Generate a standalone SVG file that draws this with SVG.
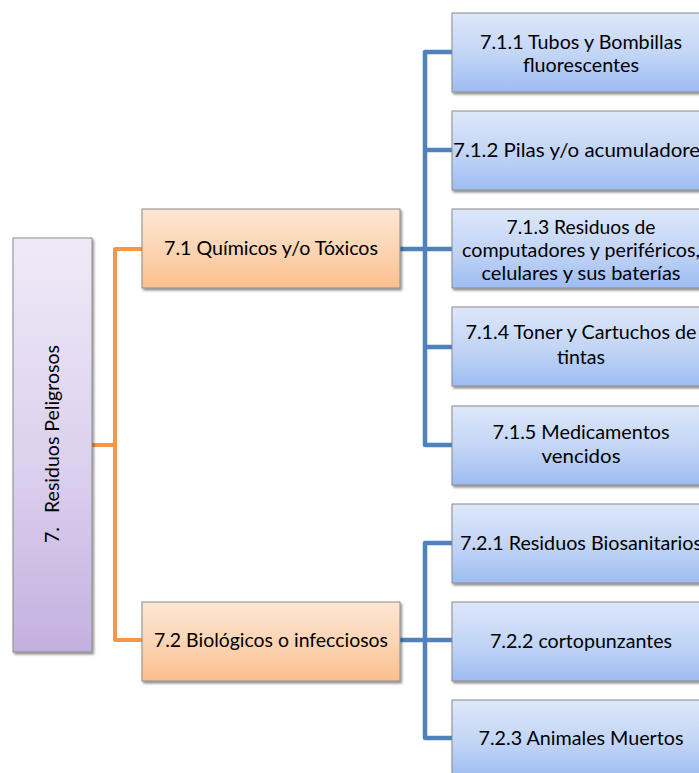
<svg xmlns="http://www.w3.org/2000/svg" width="699" height="773" viewBox="0 0 699 773">
<defs>
<linearGradient id="gP" x1="0" y1="0" x2="0" y2="1"><stop offset="0" stop-color="#EFEAF7"/><stop offset="0.55" stop-color="#DCD0EE"/><stop offset="1" stop-color="#C3B0E0"/></linearGradient>
<linearGradient id="gO" x1="0" y1="0" x2="0" y2="1"><stop offset="0" stop-color="#FDE6D4"/><stop offset="0.55" stop-color="#FCD3B1"/><stop offset="1" stop-color="#FABF8C"/></linearGradient>
<linearGradient id="gB" x1="0" y1="0" x2="0" y2="1"><stop offset="0" stop-color="#DDE7F9"/><stop offset="0.55" stop-color="#C1D4F6"/><stop offset="1" stop-color="#9DBCF2"/></linearGradient>
<filter id="sh" x="-10%" y="-10%" width="130%" height="130%"><feDropShadow dx="1.5" dy="2" stdDeviation="1.3" flood-color="#000" flood-opacity="0.45"/></filter>
</defs>
<style>
.box{stroke:#8A8A8A;stroke-width:1;filter:url(#sh)}
.p{fill:url(#gP)}.o{fill:url(#gO)}.b{fill:url(#gB)}
text{font-family:Lato,"Liberation Sans",sans-serif;font-size:20px;fill:#000;text-anchor:middle}
.co{fill:none;stroke:#F79646;stroke-width:4;stroke-linejoin:round}
.cb{fill:none;stroke:#4F81BD;stroke-width:4.5;stroke-linejoin:round}
</style>
<g id="connectors">
<path class="co" d="M92 445H115M143 249H115V640H143"/>
<path class="cb" d="M400 249H425M452 52H425V445H452M425 150H452M425 249H452M425 347H452"/>
<path class="cb" d="M400 640H425M452 543H425V738H452M425 640H452"/>
</g>
<g id="n7">
<rect class="box p" x="13" y="238" width="79" height="414"/>
<text transform="translate(59 535) rotate(-90)" textLength="16" lengthAdjust="spacingAndGlyphs">7.</text>
<text transform="translate(59 429) rotate(-90)" textLength="168" lengthAdjust="spacingAndGlyphs">Residuos Peligrosos</text>
</g>
<g id="n71">
<rect class="box o" x="142" y="209" width="258" height="79"/>
<text x="271" y="255" textLength="214" lengthAdjust="spacingAndGlyphs">7.1 Químicos y/o Tóxicos</text>
</g>
<g id="n72">
<rect class="box o" x="142" y="602" width="258" height="79"/>
<text x="271" y="647" textLength="234" lengthAdjust="spacingAndGlyphs">7.2 Biológicos o infecciosos</text>
</g>
<g id="n711">
<rect class="box b" x="452" y="13" width="258" height="79"/>
<text x="581" y="49" textLength="202" lengthAdjust="spacingAndGlyphs">7.1.1 Tubos y Bombillas</text>
<text x="581" y="72" textLength="116" lengthAdjust="spacingAndGlyphs">fluorescentes</text>
</g>
<g id="n712">
<rect class="box b" x="452" y="111" width="258" height="79"/>
<text x="581" y="157" textLength="256" lengthAdjust="spacingAndGlyphs">7.1.2 Pilas y/o acumuladores</text>
</g>
<g id="n713">
<rect class="box b" x="452" y="209" width="258" height="79"/>
<text x="581" y="234" textLength="149" lengthAdjust="spacingAndGlyphs">7.1.3 Residuos de</text>
<text x="581" y="257" textLength="238" lengthAdjust="spacingAndGlyphs">computadores y periféricos,</text>
<text x="581" y="280" textLength="199" lengthAdjust="spacingAndGlyphs">celulares y sus baterías</text>
</g>
<g id="n714">
<rect class="box b" x="452" y="307" width="258" height="79"/>
<text x="581" y="339" textLength="231" lengthAdjust="spacingAndGlyphs">7.1.4 Toner y Cartuchos de</text>
<text x="581" y="364" textLength="48" lengthAdjust="spacingAndGlyphs">tintas</text>
</g>
<g id="n715">
<rect class="box b" x="452" y="406" width="258" height="79"/>
<text x="581" y="439" textLength="177" lengthAdjust="spacingAndGlyphs">7.1.5 Medicamentos</text>
<text x="581" y="463" textLength="79" lengthAdjust="spacingAndGlyphs">vencidos</text>
</g>
<g id="n721">
<rect class="box b" x="452" y="504" width="258" height="79"/>
<text x="581" y="550" textLength="242" lengthAdjust="spacingAndGlyphs">7.2.1 Residuos Biosanitarios</text>
</g>
<g id="n722">
<rect class="box b" x="452" y="602" width="258" height="79"/>
<text x="581" y="648" textLength="182" lengthAdjust="spacingAndGlyphs">7.2.2 cortopunzantes</text>
</g>
<g id="n723">
<rect class="box b" x="452" y="700" width="258" height="79"/>
<text x="581" y="745" textLength="205" lengthAdjust="spacingAndGlyphs">7.2.3 Animales Muertos</text>
</g>
</svg>
